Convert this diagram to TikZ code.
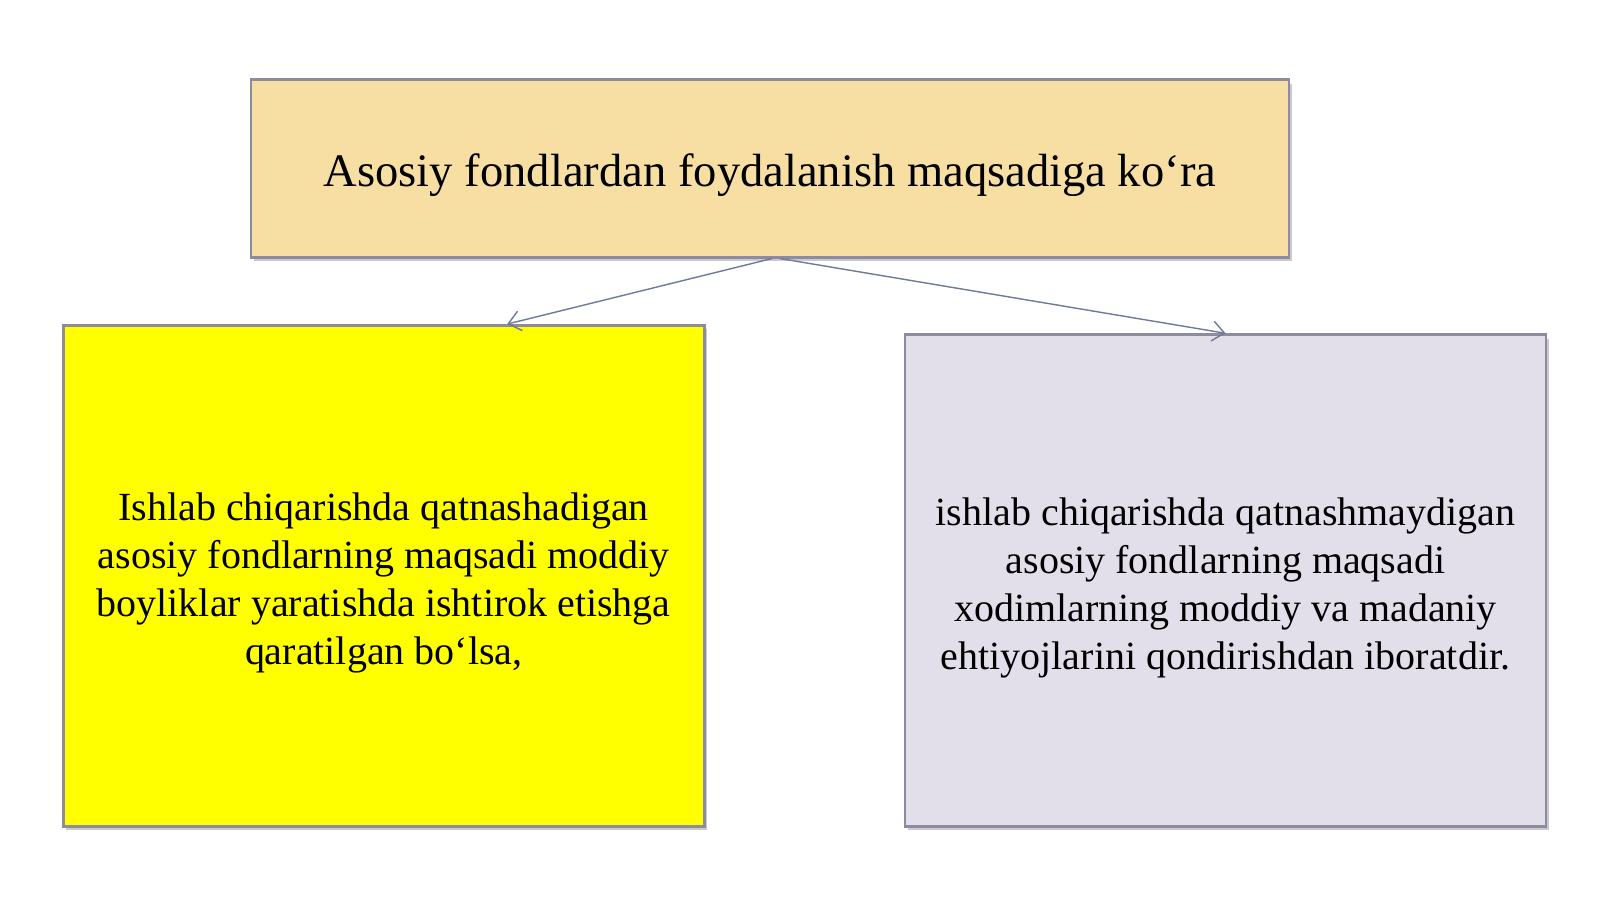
\documentclass[tikz,border=0pt]{standalone}
\usepackage{fontspec}
\setmainfont{Liberation Serif}
\usetikzlibrary{positioning,calc}
\usetikzlibrary{arrows.meta,shadows}

\definecolor{headfill}{HTML}{F7DFA3}
\definecolor{leftfill}{HTML}{FFFF00}
\definecolor{rightfill}{HTML}{E2DFEB}
\definecolor{edge}{HTML}{8E8BA0}
\definecolor{link}{HTML}{6F7A9A}

\begin{document}
\begin{tikzpicture}[>={Straight Barb[length=1.2mm,width=2mm]}, thin]
    \useasboundingbox (0, 0) rectangle (16, 8.99);
    \tikzset{
        card/.style={draw=edge, line width=.8pt, inner sep=0pt,
            drop shadow={shadow xshift=.3mm, shadow yshift=-.4mm, opacity=.35, fill=black!60}},
        body/.style={align=center, font=\fontsize{11.37}{13.66}\selectfont}
    }

    % \node (h0) at (0, 0) {};

    \node [card, fill=headfill, minimum width=10.38cm, minimum height=1.775cm] (head) at (7.70, 7.306) {};
    \node [align=center, font=\fontsize{13.25}{15.5}\selectfont] (htext) at ([yshift=-.07cm]head.center)
        {Asosiy fondlardan foydalanish maqsadiga ko‘ra};

    \node [card, fill=leftfill, minimum width=6.41cm, minimum height=5.01cm] (lbox) at (3.837, 3.23) {};
    \node [body] (ltext) at ([yshift=-.07cm]lbox.center)
        {Ishlab chiqarishda qatnashadigan\\ asosiy fondlarning maqsadi moddiy\\ boyliklar yaratishda ishtirok etishga\\ qaratilgan bo‘lsa,};

    \node [card, fill=rightfill, minimum width=6.41cm, minimum height=4.918cm] (rbox) at (12.255, 3.184) {};
    \node [body] (rtext) at ([yshift=-.07cm]rbox.center)
        {ishlab chiqarishda qatnashmaydigan\\ asosiy fondlarning maqsadi\\ xodimlarning moddiy va madaniy\\ ehtiyojlarini qondirishdan iboratdir.};

    \coordinate (lend) at ($(lbox.north) + (1.235, 0)$);
    \draw [->, link] ($(head.south) + (.02, 0)$) -- (lend);
    \draw [->, link] ($(head.south) + (.1, 0)$) -- (rbox.north);
    % \draw
\end{tikzpicture}
\end{document}
